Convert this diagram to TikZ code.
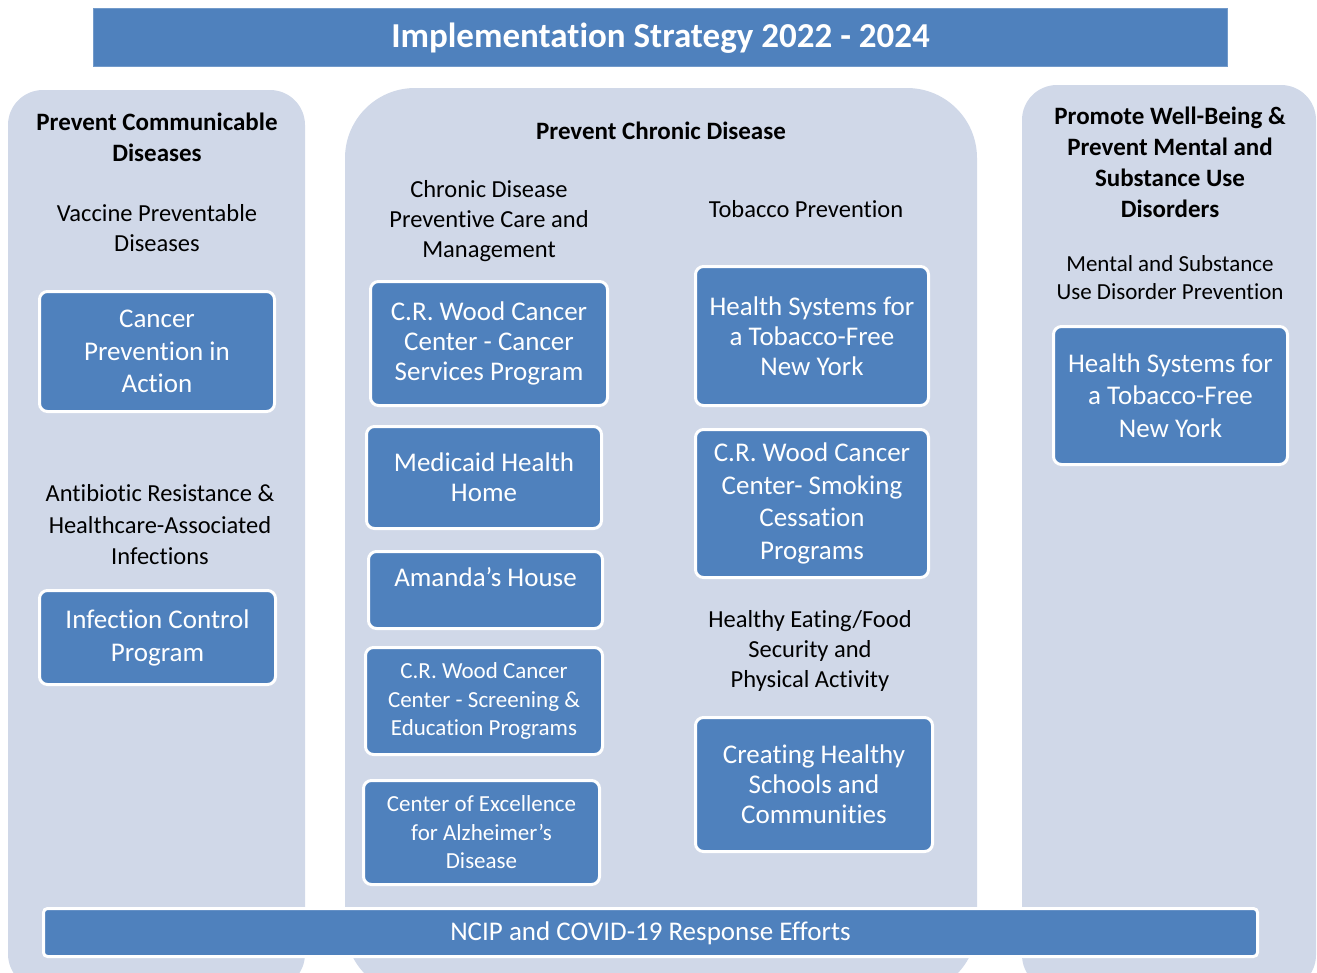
\documentclass[tikz,border=0pt]{standalone}
\usepackage{fontspec}
\setmainfont{Carlito}[Ligatures=NoCommon]
\definecolor{boxblue}{HTML}{4F81BD}
\definecolor{colgrey}{HTML}{D0D8E8}
\begin{document}
\begin{tikzpicture}[x=1pt,y=-1pt,
	colbox/.style={fill=colgrey,draw=none},
	progbox/.style={fill=boxblue,draw=white,line width=3pt,rounded corners=8pt,
		text=white,align=center,inner sep=0pt,font=\myfontbox},
	smallbox/.style={progbox,font=\myfontsmall},
	headtxt/.style={align=center,inner sep=0pt,font=\myfonthead},
	subtxt/.style={align=center,inner sep=0pt,font=\myfontsub}]
		\newcommand{\myfonthead}{\fontsize{25}{31}\selectfont\bfseries}
		\newcommand{\myfontsub}{\fontsize{24.5}{30}\selectfont}
		\newcommand{\myfontbox}{\fontsize{27}{30}\selectfont}
		\newcommand{\myfontwide}{\fontsize{27}{32.5}\selectfont}
		\newcommand{\myfontsmall}{\fontsize{23}{28.5}\selectfont}
		\useasboundingbox (0,0) rectangle (1317,972);
		\clip (0,0) rectangle (1317,972);
		%Title bar
		\node [fill=boxblue,draw=boxblue!80!white,line width=1pt,minimum width=1134pt,minimum height=58pt,
			text=white,font=\fontsize{35}{40}\selectfont\bfseries,text depth=5pt] (title) at (660.5,37.5) {Implementation Strategy 2022 - 2024};
		%The three columns
		\draw [colbox,rounded corners=35pt] (8,90) rectangle (305,989);
		\draw [colbox,rounded corners=70pt] (345,88) rectangle (977,995);
		\draw [colbox,rounded corners=35pt] (1022,85) rectangle (1316,990);
		%Column 1
		\node [headtxt] (pcdHead) at (157,137) {Prevent Communicable\\Diseases};
		\node [subtxt] (vpdLabel) at (157,228.5) {Vaccine Preventable\\Diseases};
		\node [progbox,font=\myfontwide,minimum width=235pt,minimum height=120pt] (cancerPrev) at (157,351.5)
			{Cancer\\Prevention in\\Action};
		\node [subtxt,font=\fontsize{24.5}{31.5}\selectfont] (arLabel) at (160,525) {Antibiotic Resistance \&\\Healthcare-Associated\\Infections};
		\node [progbox,font=\fontsize{27}{33}\selectfont,minimum width=236pt,minimum height=94pt] (infection) at (157.5,637.5)
			{Infection Control\\Program};
		%Column 2
		\node [headtxt] (pchdHead) at (661,130.5) {Prevent Chronic Disease};
		\node [subtxt] (cdLabel) at (489,221.5) {Chronic Disease\\Preventive Care and\\Management};
		\node [subtxt] (tobLabel) at (806,209.5) {Tobacco Prevention};
		\node [subtxt] (heLabel) at (810,650.5) {Healthy Eating/Food\\Security and\\Physical Activity};
		%left programs
		\node [progbox,minimum width=237pt,minimum height=124pt] (crwServices) at (489,343.5)
			{C.R. Wood Cancer\\Center - Cancer\\Services Program};
		\node [progbox,minimum width=235pt,minimum height=102pt] (medicaid) at (484,477.5)
			{Medicaid Health\\Home};
		\node [progbox,minimum width=234pt,minimum height=77pt,text depth=27pt] (amanda) at (485.5,590)
			{Amanda’s House};
		\node [smallbox,minimum width=237pt,minimum height=107pt] (crwScreening) at (484,701)
			{C.R. Wood Cancer\\Center - Screening \&\\Education Programs};
		\node [smallbox,minimum width=236pt,minimum height=104pt] (alzheimer) at (481.5,832.5)
			{Center of Excellence\\for Alzheimer’s\\Disease};
		%right programs
		\node [progbox,minimum width=233pt,minimum height=139pt] (hsTobaccoMid) at (812,336)
			{Health Systems for\\a Tobacco-Free\\New York};
		\node [progbox,font=\fontsize{27}{32.7}\selectfont,minimum width=233pt,minimum height=148pt] (crwSmoking) at (812,503.5)
			{C.R. Wood Cancer\\Center- Smoking\\Cessation\\Programs};
		\node [progbox,minimum width=237pt,minimum height=134pt] (chSchools) at (814,784.5)
			{Creating Healthy\\Schools and\\Communities};
		%Column 3
		\node [headtxt] (pwbHead) at (1170,162) {Promote Well-Being \&\\Prevent Mental and\\Substance Use\\Disorders};
		\node [subtxt,font=\myfontsmall] (msLabel) at (1170,277.5) {Mental and Substance\\Use Disorder Prevention};
		\node [progbox,font=\myfontwide,minimum width=234pt,minimum height=138pt] (hsTobaccoRight) at (1170.5,395.5)
			{Health Systems for\\a Tobacco-Free\\New York};
		%Bottom bar
		\node [progbox,rounded corners=4pt,minimum width=1214pt,minimum height=48pt,text depth=3pt] (ncip) at (650.5,932.5)
			{NCIP and COVID-19 Response Efforts};
\end{tikzpicture}
\end{document}
